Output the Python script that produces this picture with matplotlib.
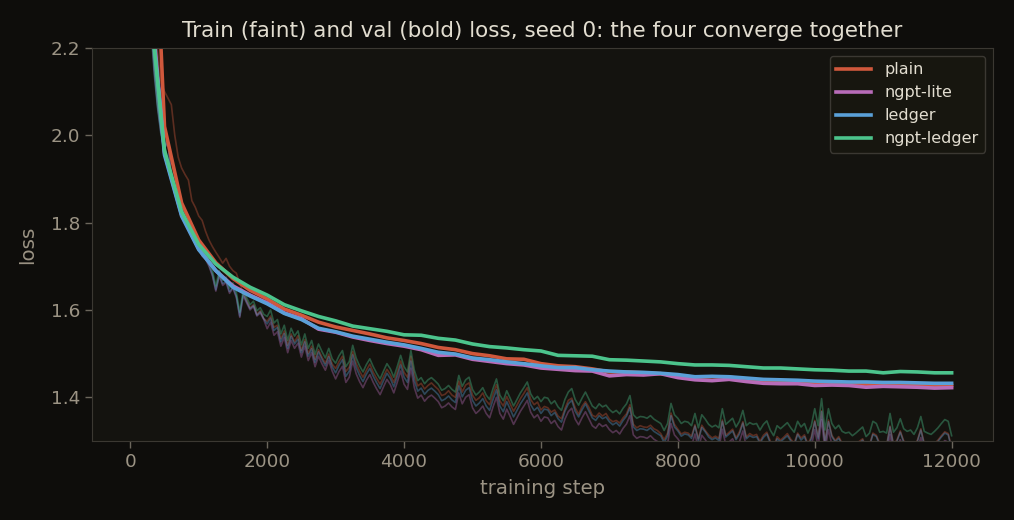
import matplotlib.pyplot as plt
import numpy as np

# nombres de las series y colores
names = ["plain", "ngpt-lite", "ledger", "ngpt-ledger"]
colors = ["#d0583c", "#b86cb8", "#5aa0d8", "#4cc48c"]

# validacion cada 250 pasos
val_steps = list(range(0, 12001, 250))
val_plain = [4.20, 2.90, 2.020, 1.845, 1.760, 1.708, 1.672, 1.645, 1.625, 1.602,
             1.588, 1.572, 1.561, 1.553, 1.545, 1.536, 1.530, 1.523, 1.514, 1.509,
             1.500, 1.495, 1.488, 1.487, 1.477, 1.472, 1.470, 1.465, 1.458, 1.458,
             1.456, 1.454, 1.450, 1.446, 1.447, 1.446, 1.441, 1.438, 1.436, 1.436,
             1.432, 1.432, 1.431, 1.430, 1.429, 1.429, 1.428, 1.427, 1.427]
val_lite = [4.05, 2.40, 1.960, 1.818, 1.740, 1.690, 1.655, 1.634, 1.616, 1.593,
            1.580, 1.556, 1.549, 1.538, 1.530, 1.523, 1.517, 1.509, 1.496, 1.497,
            1.487, 1.482, 1.477, 1.474, 1.467, 1.464, 1.461, 1.460, 1.449, 1.452,
            1.451, 1.454, 1.445, 1.440, 1.438, 1.441, 1.436, 1.432, 1.431, 1.431,
            1.427, 1.428, 1.427, 1.423, 1.425, 1.424, 1.423, 1.421, 1.422]
val_ledger = [4.05, 2.38, 1.955, 1.815, 1.738, 1.690, 1.652, 1.632, 1.614, 1.592,
              1.578, 1.558, 1.550, 1.540, 1.533, 1.526, 1.520, 1.512, 1.503, 1.499,
              1.490, 1.486, 1.481, 1.477, 1.472, 1.468, 1.468, 1.463, 1.460, 1.458,
              1.457, 1.455, 1.452, 1.447, 1.448, 1.447, 1.444, 1.441, 1.440, 1.439,
              1.437, 1.436, 1.435, 1.435, 1.434, 1.434, 1.433, 1.432, 1.432]
val_nl = [4.10, 2.36, 1.965, 1.825, 1.750, 1.705, 1.675, 1.652, 1.634, 1.612,
          1.598, 1.585, 1.575, 1.563, 1.557, 1.551, 1.543, 1.542, 1.535, 1.531,
          1.522, 1.516, 1.513, 1.509, 1.506, 1.496, 1.495, 1.494, 1.486, 1.485,
          1.483, 1.481, 1.477, 1.474, 1.474, 1.473, 1.470, 1.467, 1.467, 1.465,
          1.463, 1.462, 1.460, 1.460, 1.456, 1.459, 1.458, 1.456, 1.456]

# train cada 50 pasos
train_steps = list(range(0, 12001, 50))
train_plain = [
    4.30, 3.85, 3.40, 3.05, 2.78, 2.58, 2.42, 2.30, 2.19, 2.12, 2.100, 2.085, 2.070, 2.000, 1.950, 1.925, 1.910, 1.897, 1.850, 1.835,
    1.815, 1.805, 1.780, 1.760, 1.745, 1.732, 1.720, 1.707, 1.718, 1.700, 1.690, 1.684, 1.660, 1.640, 1.622, 1.605, 1.612, 1.590, 1.598, 1.580,
    1.574, 1.586, 1.560, 1.565, 1.534, 1.552, 1.519, 1.545, 1.527, 1.541, 1.507, 1.532, 1.500, 1.517, 1.487, 1.509, 1.492, 1.478, 1.499, 1.476,
    1.466, 1.482, 1.494, 1.459, 1.469, 1.505, 1.478, 1.460, 1.446, 1.462, 1.476, 1.457, 1.443, 1.430, 1.448, 1.464, 1.452, 1.434, 1.457, 1.483,
    1.457, 1.446, 1.494, 1.450, 1.426, 1.432, 1.419, 1.427, 1.433, 1.425, 1.418, 1.404, 1.407, 1.415, 1.405, 1.400, 1.437, 1.412, 1.428, 1.433,
    1.405, 1.393, 1.399, 1.410, 1.392, 1.383, 1.407, 1.429, 1.392, 1.380, 1.402, 1.385, 1.368, 1.382, 1.397, 1.409, 1.422, 1.395, 1.383, 1.389,
    1.371, 1.379, 1.376, 1.366, 1.371, 1.357, 1.351, 1.374, 1.393, 1.398, 1.376, 1.361, 1.379, 1.390, 1.377, 1.359, 1.355, 1.364, 1.357, 1.363,
    1.350, 1.344, 1.347, 1.341, 1.353, 1.362, 1.383, 1.338, 1.330, 1.335, 1.332, 1.331, 1.336, 1.328, 1.324, 1.317, 1.303, 1.318, 1.364, 1.338,
    1.327, 1.316, 1.320, 1.318, 1.311, 1.337, 1.305, 1.336, 1.324, 1.314, 1.307, 1.311, 1.306, 1.348, 1.313, 1.320, 1.327, 1.307, 1.321, 1.344,
    1.309, 1.317, 1.312, 1.315, 1.299, 1.313, 1.320, 1.300, 1.286, 1.310, 1.302, 1.309, 1.317, 1.304, 1.295, 1.318, 1.307, 1.314, 1.293, 1.309,
    1.347, 1.309, 1.369, 1.299, 1.348, 1.313, 1.301, 1.310, 1.295, 1.292, 1.293, 1.286, 1.291, 1.299, 1.305, 1.284, 1.292, 1.318, 1.313, 1.294,
    1.294, 1.291, 1.334, 1.293, 1.302, 1.323, 1.300, 1.295, 1.297, 1.288, 1.302, 1.328, 1.295, 1.290, 1.288, 1.294, 1.302, 1.312, 1.321, 1.317,
    1.285]
train_lite = [
    4.22, 3.60, 3.08, 2.76, 2.53, 2.38, 2.26, 2.15, 2.065, 2.005, 1.970, 1.985, 1.902, 1.875, 1.848, 1.828, 1.806, 1.788, 1.770, 1.755,
    1.740, 1.723, 1.716, 1.700, 1.678, 1.643, 1.678, 1.656, 1.663, 1.638, 1.650, 1.628, 1.583, 1.633, 1.616, 1.600, 1.608, 1.586, 1.593, 1.578,
    1.557, 1.572, 1.542, 1.550, 1.517, 1.537, 1.502, 1.530, 1.512, 1.524, 1.492, 1.517, 1.484, 1.502, 1.470, 1.494, 1.477, 1.462, 1.484, 1.460,
    1.442, 1.459, 1.471, 1.434, 1.446, 1.483, 1.454, 1.436, 1.422, 1.439, 1.452, 1.434, 1.419, 1.406, 1.424, 1.441, 1.429, 1.410, 1.434, 1.460,
    1.430, 1.418, 1.467, 1.422, 1.398, 1.405, 1.391, 1.400, 1.405, 1.398, 1.390, 1.376, 1.380, 1.387, 1.378, 1.372, 1.410, 1.385, 1.400, 1.406,
    1.376, 1.363, 1.370, 1.380, 1.363, 1.353, 1.378, 1.400, 1.363, 1.350, 1.373, 1.356, 1.338, 1.353, 1.368, 1.380, 1.393, 1.366, 1.353, 1.360,
    1.345, 1.355, 1.353, 1.340, 1.347, 1.333, 1.325, 1.350, 1.367, 1.375, 1.350, 1.337, 1.353, 1.367, 1.351, 1.335, 1.329, 1.340, 1.333, 1.337,
    1.326, 1.319, 1.324, 1.316, 1.329, 1.339, 1.358, 1.314, 1.306, 1.310, 1.309, 1.306, 1.312, 1.304, 1.299, 1.294, 1.278, 1.294, 1.340, 1.314,
    1.305, 1.293, 1.298, 1.296, 1.288, 1.316, 1.283, 1.313, 1.303, 1.291, 1.285, 1.289, 1.283, 1.327, 1.291, 1.298, 1.305, 1.285, 1.298, 1.323,
    1.287, 1.294, 1.290, 1.292, 1.277, 1.290, 1.298, 1.277, 1.264, 1.287, 1.280, 1.287, 1.294, 1.282, 1.272, 1.297, 1.284, 1.292, 1.270, 1.287,
    1.326, 1.287, 1.349, 1.277, 1.326, 1.292, 1.280, 1.288, 1.274, 1.270, 1.272, 1.264, 1.270, 1.277, 1.284, 1.262, 1.270, 1.297, 1.292, 1.272,
    1.274, 1.270, 1.315, 1.272, 1.282, 1.303, 1.280, 1.274, 1.277, 1.267, 1.282, 1.308, 1.274, 1.270, 1.267, 1.274, 1.282, 1.292, 1.301, 1.297,
    1.264]
train_ledger = [
    4.20, 3.58, 3.06, 2.74, 2.52, 2.37, 2.25, 2.14, 2.06, 2.00, 1.968, 1.990, 1.900, 1.872, 1.845, 1.826, 1.804, 1.786, 1.768, 1.752,
    1.744, 1.726, 1.720, 1.703, 1.681, 1.646, 1.680, 1.660, 1.666, 1.642, 1.652, 1.631, 1.586, 1.636, 1.619, 1.603, 1.610, 1.588, 1.596, 1.580,
    1.568, 1.581, 1.553, 1.560, 1.527, 1.546, 1.512, 1.540, 1.522, 1.533, 1.502, 1.527, 1.494, 1.511, 1.480, 1.504, 1.487, 1.472, 1.493, 1.470,
    1.456, 1.473, 1.486, 1.448, 1.460, 1.497, 1.468, 1.450, 1.436, 1.453, 1.466, 1.448, 1.433, 1.420, 1.438, 1.455, 1.443, 1.424, 1.448, 1.474,
    1.446, 1.434, 1.483, 1.438, 1.414, 1.421, 1.407, 1.416, 1.421, 1.414, 1.406, 1.392, 1.396, 1.403, 1.394, 1.388, 1.426, 1.401, 1.416, 1.422,
    1.393, 1.380, 1.387, 1.397, 1.380, 1.370, 1.395, 1.417, 1.380, 1.367, 1.390, 1.373, 1.355, 1.370, 1.385, 1.397, 1.410, 1.383, 1.370, 1.377,
    1.363, 1.373, 1.371, 1.358, 1.365, 1.351, 1.343, 1.368, 1.385, 1.393, 1.368, 1.355, 1.371, 1.385, 1.369, 1.353, 1.347, 1.358, 1.351, 1.355,
    1.344, 1.337, 1.342, 1.334, 1.347, 1.357, 1.376, 1.332, 1.324, 1.328, 1.327, 1.324, 1.330, 1.322, 1.317, 1.312, 1.296, 1.312, 1.358, 1.332,
    1.323, 1.311, 1.316, 1.314, 1.306, 1.334, 1.301, 1.331, 1.321, 1.309, 1.303, 1.307, 1.301, 1.345, 1.309, 1.316, 1.323, 1.303, 1.316, 1.341,
    1.305, 1.312, 1.308, 1.310, 1.295, 1.308, 1.316, 1.295, 1.282, 1.305, 1.298, 1.305, 1.312, 1.300, 1.290, 1.315, 1.302, 1.310, 1.288, 1.305,
    1.344, 1.305, 1.367, 1.295, 1.344, 1.310, 1.298, 1.306, 1.292, 1.288, 1.290, 1.282, 1.288, 1.295, 1.302, 1.280, 1.288, 1.315, 1.310, 1.290,
    1.291, 1.287, 1.332, 1.289, 1.299, 1.320, 1.297, 1.291, 1.294, 1.284, 1.299, 1.325, 1.291, 1.287, 1.284, 1.291, 1.299, 1.309, 1.318, 1.314,
    1.281]
train_nl = [
    4.25, 3.62, 3.10, 2.78, 2.55, 2.40, 2.27, 2.16, 2.07, 2.01, 1.975, 1.945, 1.905, 1.880, 1.852, 1.835, 1.812, 1.795, 1.776, 1.762,
    1.752, 1.735, 1.728, 1.712, 1.690, 1.655, 1.690, 1.668, 1.675, 1.650, 1.662, 1.640, 1.595, 1.645, 1.628, 1.612, 1.620, 1.598, 1.605, 1.590,
    1.585, 1.600, 1.570, 1.578, 1.545, 1.565, 1.530, 1.558, 1.540, 1.552, 1.520, 1.545, 1.512, 1.530, 1.498, 1.522, 1.505, 1.490, 1.512, 1.488,
    1.478, 1.495, 1.507, 1.470, 1.482, 1.519, 1.490, 1.472, 1.458, 1.475, 1.488, 1.470, 1.455, 1.442, 1.460, 1.477, 1.465, 1.446, 1.470, 1.496,
    1.470, 1.458, 1.507, 1.462, 1.438, 1.445, 1.431, 1.440, 1.445, 1.438, 1.430, 1.416, 1.420, 1.427, 1.418, 1.412, 1.450, 1.425, 1.440, 1.446,
    1.418, 1.405, 1.412, 1.422, 1.405, 1.395, 1.420, 1.442, 1.405, 1.392, 1.415, 1.398, 1.380, 1.395, 1.410, 1.422, 1.435, 1.408, 1.395, 1.402,
    1.390, 1.400, 1.398, 1.385, 1.392, 1.378, 1.370, 1.395, 1.412, 1.420, 1.395, 1.382, 1.398, 1.412, 1.396, 1.380, 1.374, 1.385, 1.378, 1.382,
    1.372, 1.365, 1.370, 1.362, 1.375, 1.385, 1.404, 1.360, 1.352, 1.356, 1.355, 1.352, 1.358, 1.350, 1.345, 1.340, 1.324, 1.340, 1.386, 1.360,
    1.352, 1.340, 1.345, 1.343, 1.335, 1.363, 1.330, 1.360, 1.350, 1.338, 1.332, 1.336, 1.330, 1.374, 1.338, 1.345, 1.352, 1.332, 1.345, 1.370,
    1.335, 1.342, 1.338, 1.340, 1.325, 1.338, 1.346, 1.325, 1.312, 1.335, 1.328, 1.335, 1.342, 1.330, 1.320, 1.345, 1.332, 1.340, 1.318, 1.335,
    1.374, 1.335, 1.397, 1.325, 1.374, 1.340, 1.328, 1.336, 1.322, 1.318, 1.320, 1.312, 1.318, 1.325, 1.332, 1.310, 1.318, 1.345, 1.340, 1.320,
    1.322, 1.318, 1.363, 1.320, 1.330, 1.351, 1.328, 1.322, 1.325, 1.315, 1.330, 1.356, 1.322, 1.318, 1.315, 1.322, 1.330, 1.340, 1.349, 1.345,
    1.312]

vals = [val_plain, val_lite, val_ledger, val_nl]
trains = [train_plain, train_lite, train_ledger, train_nl]

fondo = "#0e0d0b"
fondo_ax = "#14130f"
borde = "#3b3832"
texto = "#e2ddd0"
gris = "#9b9384"

fig = plt.figure(figsize=(10.14, 5.2), dpi=100, facecolor=fondo)
ax = fig.add_axes([0.091, 0.152, 0.888, 0.756], facecolor=fondo_ax)

# primero las de train (tenues)
for k in range(4):
    ax.plot(train_steps, trains[k], color=colors[k], alpha=0.38, linewidth=1.2)

# luego las de validacion (gruesas)
for k in range(4):
    ax.plot(val_steps, vals[k], color=colors[k], linewidth=2.6, label=names[k])

ax.set_ylim(1.3, 2.2)
ax.set_xlim(-555, 12600)
ax.set_xticks(range(0, 12001, 2000))
ax.set_yticks([1.4, 1.6, 1.8, 2.0, 2.2])
ax.set_yticklabels(["1.4", "1.6", "1.8", "2.0", "2.2"])

for s in ax.spines.values():
    s.set_color(borde)
ax.tick_params(colors=gris, labelsize=13.3, length=5, width=1)
ax.tick_params(axis="both", color="#6b665c")

ax.set_title("Train (faint) and val (bold) loss, seed 0: the four converge together",
             color=texto, fontsize=15.5, pad=8)
ax.set_xlabel("training step", color=gris, fontsize=14.2, labelpad=6)
ax.set_ylabel("loss", color=gris, fontsize=14.2, labelpad=10)

leg = ax.legend(loc="upper right", fontsize=11.5, facecolor="#17160f",
                edgecolor=borde, framealpha=1.0, handlelength=2.2)
for t in leg.get_texts():
    t.set_color(texto)

plt.savefig("out.png", dpi=100, facecolor=fondo)
